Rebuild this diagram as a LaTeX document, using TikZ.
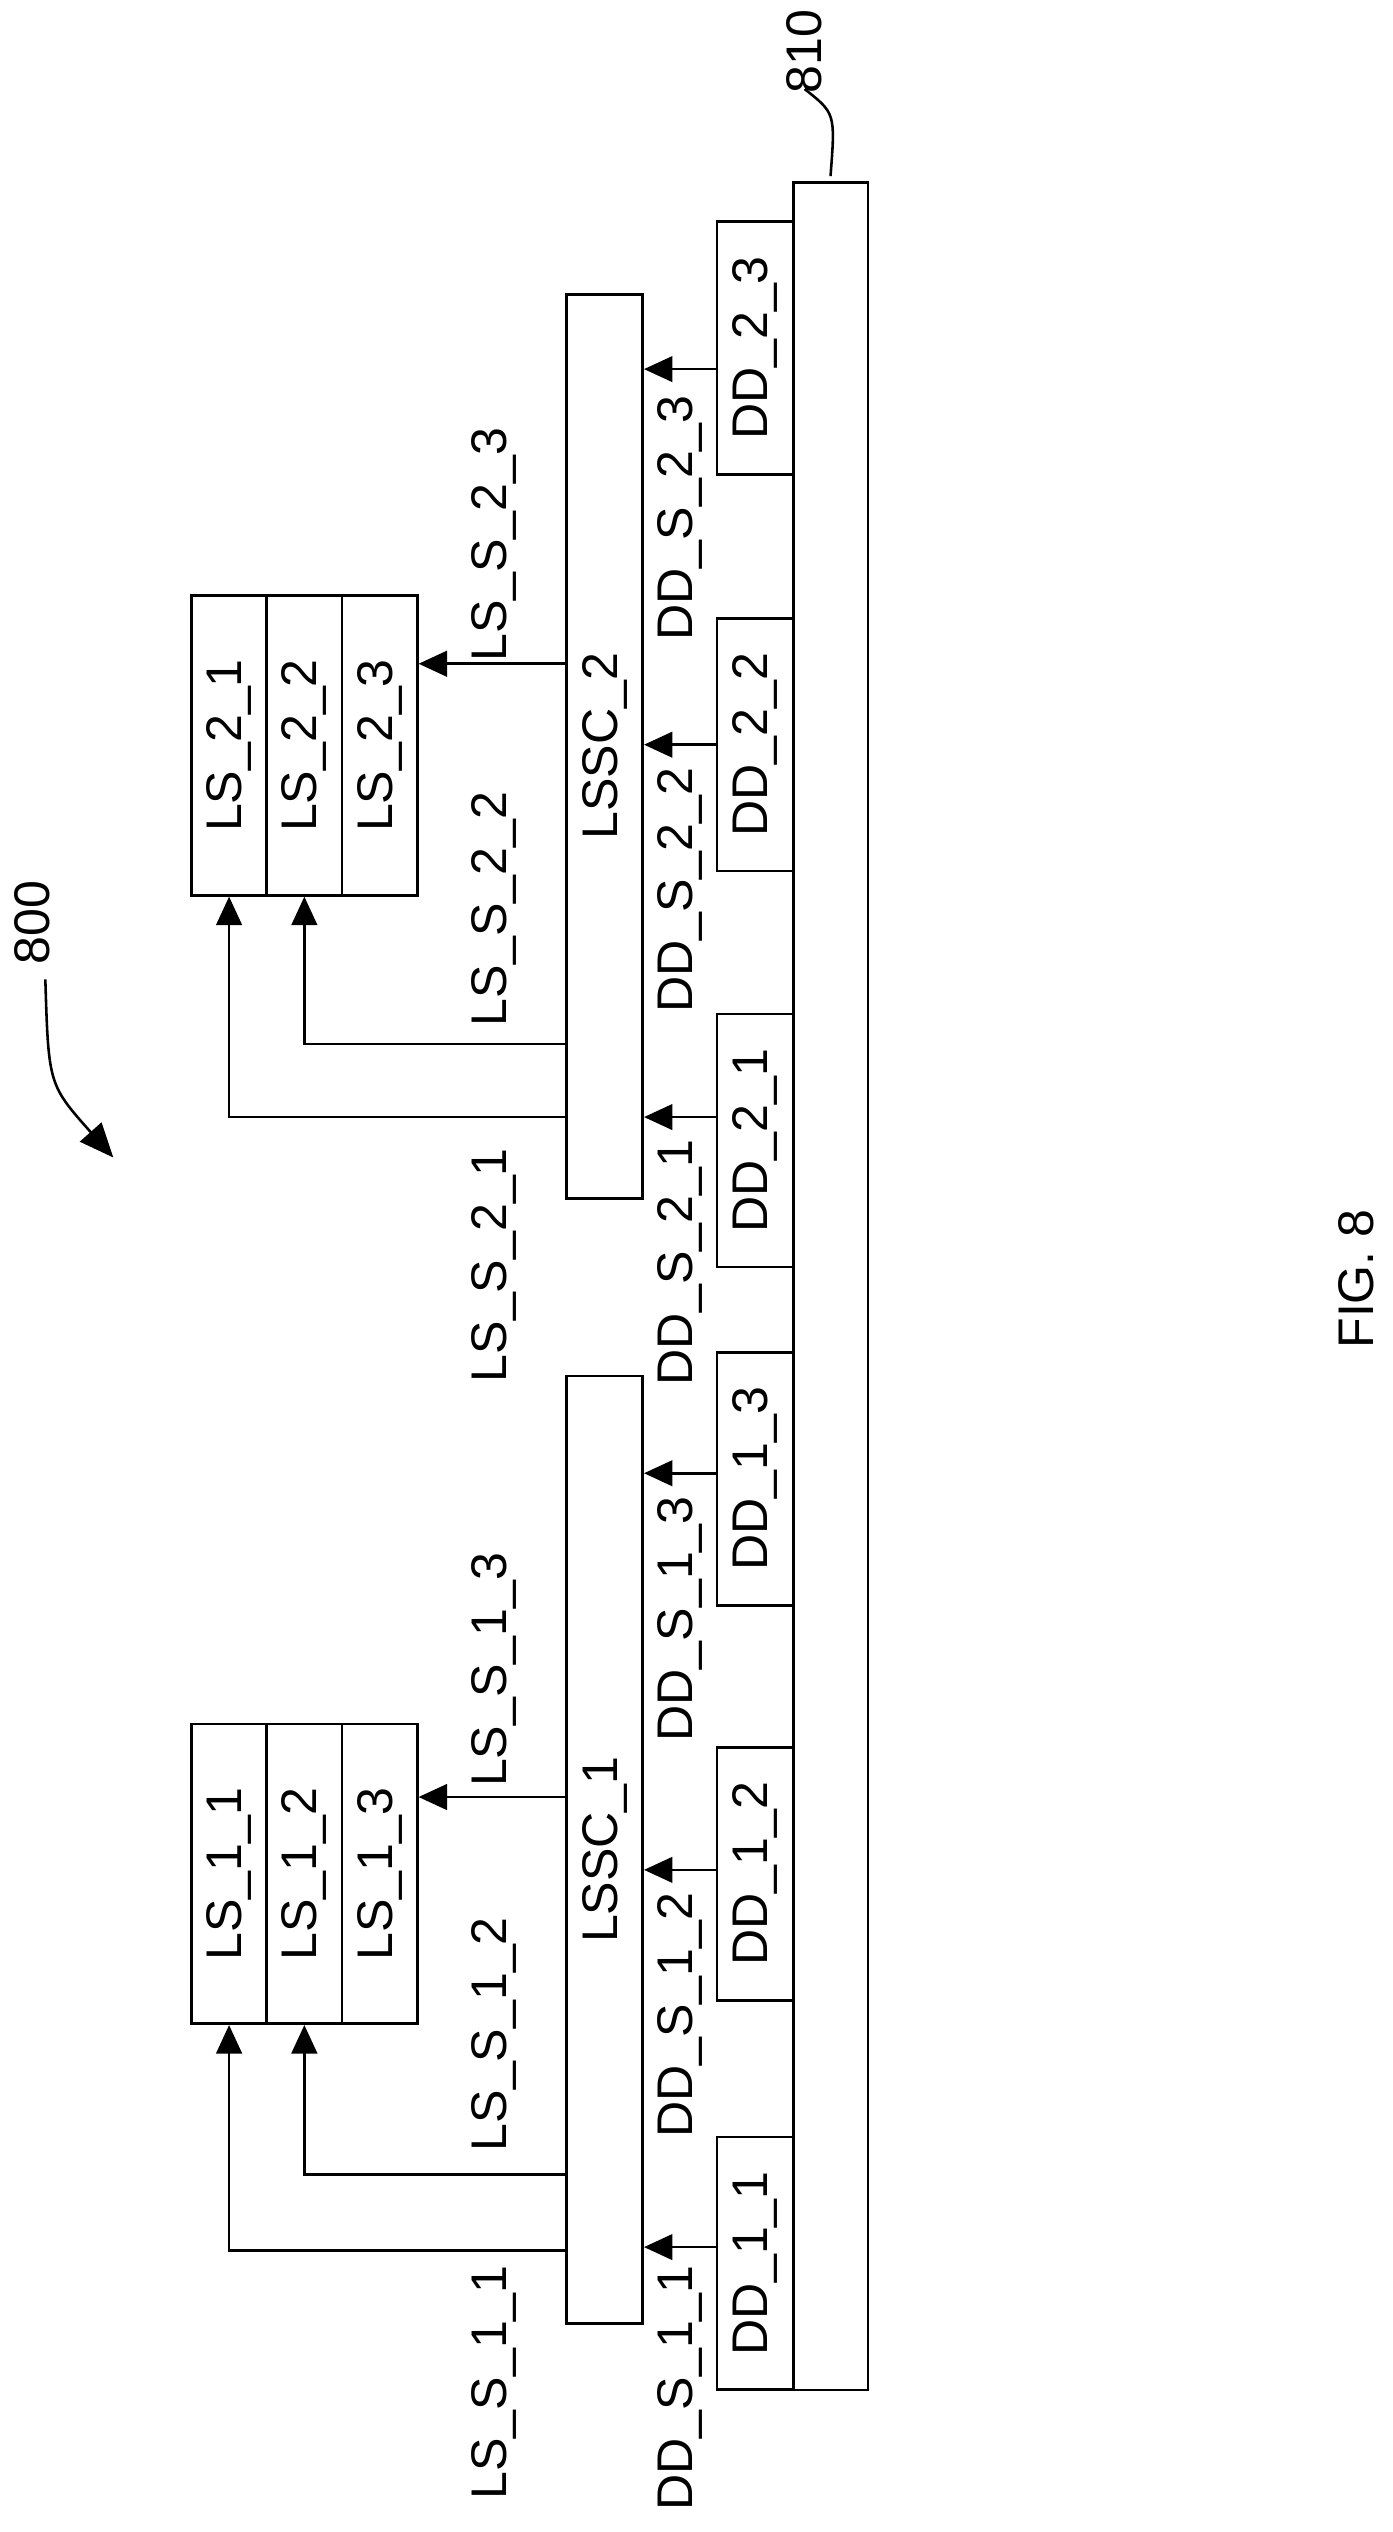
\documentclass[tikz,border=0pt]{standalone}
\usepackage{fontspec}
\setmainfont{Liberation Sans}
\usetikzlibrary{arrows.meta, positioning}

\begin{document}
\begin{tikzpicture}[x=0.01cm, y=-0.01cm,
        % STYLES
        box/.style={draw, line width=0.45pt, inner sep=0pt},
        lbl/.style={rotate=90, font=\fontsize{8.8}{10}\selectfont, inner sep=1pt},
        % ARROWS
        sig/.style={-{Triangle[length=5pt, width=4.5pt]}, line width=0.45pt}
    ]
    \useasboundingbox (0,0) rectangle (860,1564);

    % ===================================
    % 1. Bus and data devices
    % ===================================
    \node[box, minimum width=0.46cm, minimum height=13.63cm] (bus) at (513,794.5) {};
    \foreach \g/\n/\yc in {1/1/1398, 1/2/1157.5, 1/3/913.5, 2/1/704.5, 2/2/460, 2/3/215} {
        \node[box, minimum width=0.47cm, minimum height=1.56cm] (dd\g\n) at (466.5,\yc) {};
        \node[lbl] at (dd\g\n) {DD\_\g\_\n};
    }

    % --- Controllers ---
    \node[box, minimum width=0.47cm, minimum height=5.85cm] (lssc1) at (373.5,1142.5) {};
    \node[lbl] at (lssc1) {LSSC\_1};
    \node[box, minimum width=0.47cm, minimum height=5.58cm] (lssc2) at (373.5,461) {};
    \node[lbl] at (lssc2) {LSSC\_2};

    % --- Storage blocks ---
    \foreach \g/\yc in {1/1157.5, 2/460.5} {
        \foreach \n/\xc in {1/141.5, 2/188, 3/234.5} {
            \node[box, minimum width=0.465cm, minimum height=1.85cm] (ls\g\n) at (\xc,\yc) {};
            \node[lbl] at (ls\g\n) {LS\_\g\_\n};
        }
    }

    % ===================================
    % 2. Signals
    % ===================================
    \foreach \g/\n/\ya/\yt in {1/1/1388/1395, 1/2/1155/1165, 1/3/910/920, 2/1/690/700, 2/2/460/470, 2/3/228/240} {
        \coordinate (s\g\n) at (443,\ya);
        \draw[sig] (s\g\n) -- (s\g\n -| lssc\g.east);
        \node[lbl, anchor=east] at (420,\yt) {DD\_S\_\g\_\n};
    }
    \foreach \g/\ya/\yb/\yc/\ta/\tb/\tc in {1/1390/1343/1110/1395/1180/955, 2/690/645/410/705/485/260} {
        \coordinate (o\g1) at (350,\ya);
        \coordinate (o\g2) at (350,\yb);
        \coordinate (o\g3) at (350,\yc);
        \draw[sig] (o\g1) -| (ls\g1.south);
        \draw[sig] (o\g2) -| (ls\g2.south);
        \draw[sig] (o\g3) -- (o\g3 -| ls\g3.east);
        \node[lbl, anchor=east] at (305,\ta) {LS\_S\_\g\_1};
        \node[lbl, anchor=east] at (305,\tb) {LS\_S\_\g\_2};
        \node[lbl, anchor=east] at (305,\tc) {LS\_S\_\g\_3};
    }

    % --- Reference numerals ---
    \node[lbl] (n810) at (497,32) {810};
    \draw[line width=0.45pt] (bus.north) ++(0,-3) .. controls (516,70) .. (n810.east |- 0,55);
    \node[lbl] (n800) at (20,570) {800};
    \coordinate (t800) at (70,715);
    \draw[-{Triangle[length=6pt, width=5pt]}, line width=0.45pt] (28,605) .. controls (30,670) .. (t800);
    \node[lbl, font=\fontsize{8.8}{10}\selectfont] (fig) at (838,790) {FIG. 8};
\end{tikzpicture}
\end{document}
